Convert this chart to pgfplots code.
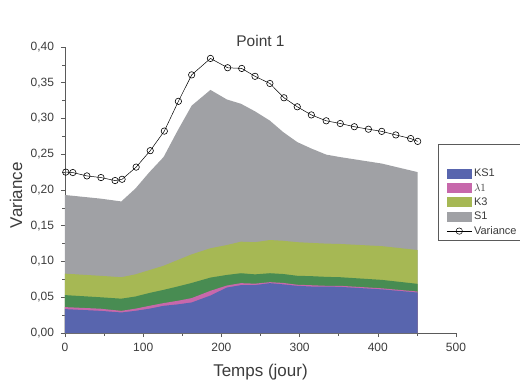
\documentclass[border=0pt]{standalone}
\usepackage{pgfplots}
\pgfplotsset{compat=1.18}
\usepackage{fontspec}
\setmainfont{Liberation Sans}
\definecolor{cKS}{RGB}{88,101,174}
\definecolor{cLam}{RGB}{199,104,171}
\definecolor{cDG}{RGB}{72,140,82}
\definecolor{cK3}{RGB}{166,184,84}
\definecolor{cS1}{RGB}{160,161,165}
\definecolor{axc}{RGB}{90,90,90}
\definecolor{txc}{RGB}{60,60,60}
\begin{document}
\begin{tikzpicture}[x=1pt,y=1pt]
\begin{axis}[
  at={(0,0)}, anchor=south west,
  width=391pt, height=286pt, scale only axis,
  xmin=0, xmax=500, ymin=0, ymax=0.40,
  axis x line*=bottom, axis y line*=left,
  axis line style={axc, line width=0.6pt},
  tick style={axc, line width=0.6pt},
  tick align=outside,
  major tick length=4pt, minor tick length=2.5pt,
  xtick={0,100,...,500}, minor x tick num=1,
  ytick={0,0.05,...,0.41}, minor y tick num=1,
  /pgf/number format/assume math mode=true,
  ticklabel style={font=\fontsize{12}{14}\selectfont, text=txc},
  yticklabel style={xshift=-3.5pt, /pgf/number format/.cd, fixed, fixed zerofill, precision=2, use comma},
  xticklabel style={yshift=-3pt},
  xlabel={Temps (jour)}, ylabel={Variance},
  label style={font=\fontsize{17}{19}\selectfont, text=txc},
  xlabel style={at={(axis description cs:0.5,-0.136)}, anchor=center},
  ylabel style={at={(axis description cs:-0.125,0.482)}, anchor=center},
  title={Point 1},
  every axis title shift=0pt,
  title style={font=\fontsize{15.5}{17}\selectfont, text=txc, at={(rel axis cs:0.5,1)}, anchor=base, yshift=0.5pt},
  legend style={at={(rel axis cs:0.954,0.661)}, anchor=north west, draw=axc, line width=0.5pt,
    font=\fontsize{11}{13}\selectfont, text=txc, row sep=1.1pt, inner sep=2.5pt,
    legend cell align=left},
  area legend/.style={legend image code/.code={\fill[##1, draw=none] (6pt,-5pt) rectangle (31pt,5pt);}},
  myline legend/.style={legend image code/.code={\draw[mark repeat=2, mark phase=2, ##1] plot coordinates {(6pt,0pt) (18.5pt,0pt) (31pt,0pt)};}},
  clip=false,
]
\addplot[fill=cS1, draw=none, forget plot] table {
0 0.193
45 0.188
72 0.184
90 0.202
108 0.225
126 0.246
144 0.283
162 0.318
186 0.340
207 0.3266
225 0.3206
243 0.310
262 0.297
279 0.281
297 0.267
315 0.258
334 0.2495
352 0.246
405 0.237
451 0.225
} \closedcycle;
\addplot[fill=cK3, draw=none, forget plot] table {
0 0.083
45 0.080
72 0.078
90 0.082
108 0.088
126 0.094
144 0.102
162 0.110
186 0.1185
207 0.123
225 0.1277
243 0.127
262 0.130
279 0.129
297 0.127
315 0.126
334 0.125
352 0.1245
405 0.1215
451 0.116
} \closedcycle;
\addplot[fill=cDG, draw=none, forget plot] table {
0 0.053
45 0.050
72 0.048
90 0.051
108 0.056
126 0.0603
144 0.065
162 0.070
186 0.0775
207 0.0812
225 0.0836
243 0.082
262 0.0836
279 0.0825
297 0.080
315 0.0795
334 0.0785
352 0.078
405 0.0743
451 0.0687
} \closedcycle;
\addplot[fill=cLam, draw=none, forget plot] table {
0 0.0362
45 0.034
72 0.031
90 0.034
108 0.038
126 0.0418
144 0.045
162 0.0488
186 0.059
207 0.0664
225 0.0697
243 0.069
262 0.0711
279 0.0700
297 0.0675
315 0.0668
334 0.066
352 0.066
405 0.0625
451 0.058
} \closedcycle;
\addplot[fill=cKS, draw=none, forget plot] table {
0 0.0334
45 0.031
72 0.0287
90 0.031
108 0.034
126 0.038
144 0.040
162 0.0427
186 0.0524
207 0.0636
225 0.0669
243 0.067
262 0.0697
279 0.068
297 0.066
315 0.065
334 0.065
352 0.0645
405 0.061
451 0.0566
} \closedcycle;
\addplot[black, line width=0.5pt, mark=o, mark size=3.2pt, mark options={fill=white, line width=0.6pt}, forget plot] table {
1 0.225
10 0.2244
28 0.2197
46 0.2174
64 0.2132
73 0.215
91 0.232
109 0.255
127 0.2824
145 0.324
162 0.361
186 0.384
208 0.371
226 0.370
243 0.359
262 0.349
280 0.329
297 0.3164
315 0.305
334 0.2968
352 0.293
370 0.2885
388 0.285
405 0.282
423 0.277
442 0.272
451 0.268
};
\addlegendimage{empty legend}
\addlegendentry{\rule[-2pt]{0pt}{16pt}}
\addlegendimage{area legend, fill=cKS}
\addlegendentry{KS1}
\addlegendimage{area legend, fill=cLam}
\addlegendentry{$\lambda1$}
\addlegendimage{area legend, fill=cK3}
\addlegendentry{K3}
\addlegendimage{area legend, fill=cS1}
\addlegendentry{S1}
\addlegendimage{myline legend, black, line width=0.5pt, mark=o, mark size=3.2pt, mark options={fill=white}}
\addlegendentry{Variance}
\end{axis}
\pgfresetboundingbox
\path (-65pt,-50pt) rectangle (455pt,333pt);
\end{tikzpicture}
\end{document}
